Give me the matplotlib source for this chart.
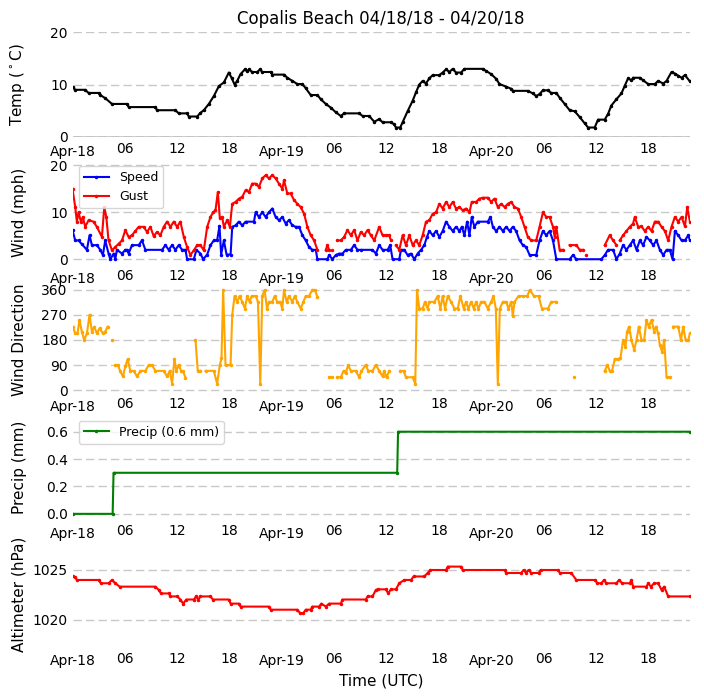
import numpy as np
import pandas as pd
import matplotlib
matplotlib.use("Agg")
import matplotlib.pyplot as plt
import matplotlib.dates as mdates

START = pd.Timestamp("2018-04-18 00:00")
nan = np.nan

# hours since 04/18 00 UTC
temp_h = [0.00, 0.31, 1.45, 1.84, 2.99, 3.18, 3.75, 4.52, 6.24, 6.43, 9.49, 9.68, 11.79, 12.17, 13.13,
          13.32, 14.28, 14.66, 15.04, 15.62, 16.19, 16.77, 17.34, 17.91, 18.22, 18.57, 18.87, 19.25,
          19.75, 20.02, 20.21, 20.59, 21.17, 21.48, 21.74, 22.70, 22.89, 24.23, 24.61, 25.19, 25.76,
          26.34, 26.72, 27.29, 28.06, 28.44, 29.02, 29.59, 30.17, 30.74, 31.12, 32.84, 33.23, 33.99,
          34.57, 35.14, 35.52, 36.48, 36.86, 37.05, 37.55, 37.82, 38.39, 38.97, 39.35, 39.73, 40.12,
          40.50, 40.88, 41.27, 42.03, 42.41, 42.80, 43.18, 43.56, 43.94, 44.52, 44.90, 47.01, 47.39,
          47.96, 48.54, 48.92, 49.69, 50.26, 50.45, 52.17, 52.75, 53.13, 53.51, 53.90, 54.47, 54.85,
          55.43, 55.81, 56.39, 56.96, 57.54, 58.11, 58.68, 59.07, 59.83, 60.21, 60.98, 61.36, 61.74,
          62.32, 62.89, 63.28, 63.66, 64.04, 64.23, 65.00, 65.38, 65.96, 66.72, 67.10, 67.68, 68.06,
          68.63, 69.02, 69.40, 69.78, 70.17, 70.74]
temp = [9.5, 9.0, 9.0, 8.4, 8.4, 8.0, 7.4, 6.3, 6.3, 5.7, 5.7, 5.1, 5.1, 4.5, 4.5,
        3.9, 3.9, 4.6, 5.1, 6.3, 7.8, 9.7, 10.4, 12.3, 11.3, 10.0, 10.7, 12.0,
        12.9, 12.5, 12.9, 12.4, 12.4, 12.9, 12.4, 12.4, 11.9, 11.9, 11.3, 10.7, 10.1,
        10.1, 9.3, 8.0, 8.0, 7.2, 6.3, 5.6, 4.7, 4.0, 4.5, 4.5, 4.0, 4.0,
        2.9, 3.4, 2.8, 2.8, 2.4, 1.8, 1.8, 2.8, 4.9, 6.9, 8.5, 10.0, 10.7,
        10.2, 11.2, 11.8, 11.8, 12.3, 12.9, 12.4, 13.0, 12.3, 12.3, 13.0, 13.0, 12.6,
        12.0, 11.1, 10.1, 9.6, 9.2, 8.8, 8.8, 8.3, 7.8, 8.2, 8.9, 8.9, 8.4,
        8.4, 7.5, 6.3, 5.1, 4.9, 3.8, 2.6, 1.8, 1.8, 3.3, 3.3, 4.4, 6.0,
        7.2, 8.3, 9.8, 11.2, 10.8, 11.3, 11.3, 10.8, 10.1, 10.1, 10.7, 10.2, 10.7,
        12.4, 12.1, 11.7, 11.3, 11.8, 10.6]

speed_h = [0.00, 0.31, 0.69, 1.07, 1.65, 1.95, 2.22, 2.79, 3.18, 3.48, 3.75, 4.13, 4.33, 4.71, 4.90,
           5.09, 5.67, 6.05, 6.24, 6.43, 6.81, 7.58, 7.96, 8.35, 10.26, 10.64, 11.02, 11.41, 11.79,
           12.17, 12.56, 12.94, 13.13, 13.90, 14.20, 14.66, 14.97, 15.43, 15.81, 16.19, 16.57, 16.84,
           17.03, 17.34, 17.65, 18.11, 18.30, 18.68, 19.06, 19.45, 19.83, 20.79, 20.98, 21.36, 21.74,
           22.13, 22.51, 22.89, 23.27, 23.66, 24.04, 24.42, 24.80, 25.19, 25.57, 25.95, 26.34, 26.72,
           27.10, 27.48, 27.87, 28.06, 29.21, 29.40, 29.78, 30.17, 30.55, 30.93, 31.31, 31.89, 32.27,
           32.65, 33.03, 34.37, 34.76, 35.14, 35.52, 36.10, 36.40, 36.67, 37.44, 37.63, 38.01, 38.39,
           38.78, 39.16, 39.54, 39.93, 40.31, 40.61, 40.88, 41.27, 41.65, 42.03, 42.41, 42.80, 43.18,
           43.56, 43.94, 44.33, 44.60, 44.90, 45.21, 45.48, 45.74, 46.05, 46.43, 47.58, 47.89, 48.16,
           48.54, 48.92, 49.30, 49.69, 50.07, 50.45, 50.83, 51.22, 51.60, 51.98, 52.37, 53.13, 53.51,
           53.90, 54.28, 54.66, 55.05, 55.43, 56.96, 57.34, 57.72, 60.60, 60.98, 61.36, 61.94, 62.32,
           62.70, 63.08, 63.47, 63.85, 64.23, 64.62, 65.00, 65.38, 65.76, 66.15, 66.53, 66.91, 67.29,
           67.68, 68.06, 68.44, 68.75, 69.02, 69.40, 69.78, 70.17, 70.55, 70.74]
speed = [6.2, 4.0, 4.0, 3.2, 2.0, 5.1, 3.0, 3.0, 2.0, 0.9, 4.0, 1.2, 0.0, 1.2, 0.0,
         2.0, 1.2, 2.0, 2.0, 1.2, 3.0, 3.0, 4.0, 2.0, 2.0, 3.0, 2.0, 3.0, 2.0,
         3.0, 2.0, 2.0, 0.0, 0.0, 2.0, 1.2, 0.0, 1.0, 3.0, 4.0, 4.0, 7.1,
         1.0, 4.0, 1.0, 1.0, 6.9, 7.2, 8.0, 7.2, 8.0, 8.0, 10.0, 9.0, 10.0,
         9.0, 10.0, 10.8, 9.0, 8.3, 9.0, 7.6, 8.3, 7.2, 6.9, 6.9, 5.1, 4.0,
         2.6, 2.0, 2.0, 0.0, 0.0, 0.9, 0.0, 0.9, 1.2, 1.2, 2.0, 2.0, 3.0,
         2.0, 2.0, 2.0, 1.2, 3.0, 2.0, 2.0, 3.0, 0.0, 0.0, 2.0, 2.0, 0.9,
         1.2, 0.0, 1.2, 2.0, 3.0, 4.75, 6.0, 5.1, 6.0, 4.75, 6.0, 8.0, 6.9,
         6.0, 6.9, 6.0, 6.9, 5.1, 8.0, 5.1, 9.0, 6.9, 8.0, 8.0, 9.0, 6.9,
         6.0, 6.9, 6.0, 6.9, 6.0, 6.9, 6.0, 4.0, 3.0, 2.6, 0.9, 0.9, 4.0,
         6.0, 5.1, 6.0, 4.0, 0.0, 0.0, 0.9, 0.0, 0.0, 0.9, 2.0, 2.0, 0.0,
         1.2, 3.0, 2.0, 3.0, 4.0, 2.0, 4.0, 3.0, 4.75, 4.0, 3.0, 4.0, 2.0,
         0.9, 2.0, 2.0, 0.0, 6.0, 5.1, 4.0, 4.0, 5.1, 4.0]

gust_h = [0.00, 0.31, 0.50, 0.69, 0.96, 1.19, 1.45, 1.84, 2.41, 2.79, 3.37, 3.64, 3.87, 4.13, 4.52,
          4.90, 5.28, 5.67, 6.05, 6.43, 6.81, 7.20, 7.58, 8.15, 8.54, 8.92, 9.30, 9.68, 10.07,
          10.45, 10.83, 11.22, 11.60, 11.98, 12.36, 12.75, 13.13, 13.51, 13.90, 14.28, 14.66, 15.04,
          15.43, 15.81, 16.12, 16.38, 16.65, 16.88, 17.15, 17.34, 17.72, 18.03, 18.30, 18.68, 19.06,
          19.45, 19.83, 20.21, 20.59, 20.98, 21.36, 21.74, 22.13, 22.51, 22.89, 23.27, 23.66, 24.04,
          24.23, 24.61, 24.99, 25.38, 25.76, 26.14, 26.53, 26.91, 27.29, 27.68, 28.06, 28.52, 29.02,
          29.21, 29.40, 29.59, 29.78, 30.17, 30.36, 30.74, 31.12, 31.50, 31.89, 32.27, 32.65, 33.03,
          33.42, 33.80, 34.18, 34.57, 35.14, 35.52, 35.91, 36.29, 36.48, 36.60, 37.05, 37.44, 37.82,
          38.20, 38.59, 38.97, 39.35, 39.73, 40.12, 40.50, 40.88, 41.27, 41.65, 42.03, 42.41, 42.80,
          43.18, 43.56, 43.94, 44.33, 44.71, 45.09, 45.48, 45.74, 46.24, 46.62, 47.01, 47.58, 47.96,
          48.35, 48.73, 49.11, 49.50, 49.88, 50.26, 50.64, 51.03, 51.41, 51.79, 52.17, 52.56, 53.13,
          53.51, 53.90, 54.28, 54.66, 55.05, 55.24, 55.43, 55.81, 56.19, 56.50, 56.96, 57.72, 58.11,
          58.49, 58.70, 58.87, 59.00, 60.98, 61.55, 61.94, 62.32, 62.50, 62.70, 63.08, 63.47, 63.85,
          64.23, 64.42, 64.81, 65.19, 65.57, 65.96, 66.34, 66.72, 67.10, 67.49, 67.87, 68.25, 68.63,
          69.02, 69.40, 69.78, 70.17, 70.43, 70.74]
gust = [15.0, 11.1, 8.0, 10.0, 8.0, 9.0, 6.9, 8.3, 8.0, 6.9, 4.75, 11.1, 9.0, 4.0, 1.9,
        2.6, 3.3, 4.0, 6.2, 4.75, 5.1, 6.0, 6.9, 6.9, 5.8, 6.9, 4.9, 5.8, 5.1,
        6.9, 8.0, 6.9, 8.0, 6.9, 8.0, 4.75, 2.6, 0.9, 1.9, 3.0, 3.0, 1.9,
        6.9, 9.0, 10.0, 10.4, 14.3, 8.7, 9.0, 6.9, 8.3, 6.9, 11.8, 12.2, 12.9,
        13.3, 14.7, 14.3, 16.1, 16.1, 15.4, 17.2, 17.9, 17.2, 17.9, 17.2, 16.1, 15.0,
        16.8, 14.0, 14.0, 12.6, 11.8, 11.1, 9.7, 6.9, 5.1, 4.0, 2.0, nan, 2.0,
        3.0, 2.0, nan, 2.0, nan, 4.0, 4.0, 4.75, 6.2, 5.1, 6.2, 4.0, 5.8,
        5.1, 6.2, 5.1, 4.0, 6.9, 5.1, 5.1, 5.1, 4.0, nan, 3.0, 2.0, 5.1,
        3.0, 5.1, 3.0, 4.0, 3.0, 5.1, 8.0, 8.3, 9.7, 10.0, 11.8, 10.8, 12.2,
        11.1, 12.2, 10.8, 11.1, 10.4, 10.8, 10.0, 12.2, 12.2, 12.9, 13.1, 13.1, 12.2,
        12.9, 11.1, 11.8, 11.1, 11.8, 12.2, 11.1, 10.8, 9.0, 6.9, 4.75, 4.0, 4.0,
        6.9, 10.0, 9.0, 9.0, 6.9, 4.75, 6.9, 2.0, 2.0, nan, 3.0, 3.0, 2.0,
        2.0, nan, 0.9, nan, 3.0, 5.1, 4.0, 3.0, nan, 4.0, 5.1, 6.0, 6.9,
        7.6, 9.0, 6.9, 7.0, 6.0, 6.9, 6.0, 8.0, 8.0, 6.9, 6.0, 4.0, 6.9,
        9.0, 8.0, 9.0, 7.0, 11.1, 8.0]

wdir_h = [0.00, 0.31, 0.57, 0.80, 1.07, 1.34, 1.65, 1.95, 2.22, 2.49, 2.79, 3.10, 3.48, 3.75, 4.02,
          4.20, 4.52, 4.70, 4.90, 5.21, 5.47, 5.78, 6.05, 6.32, 6.62, 7.01, 7.39, 7.77, 8.35, 8.73,
          9.11, 9.49, 10.45, 10.83, 11.14, 11.41, 11.68, 11.90, 12.17, 12.44, 12.67, 12.94, 13.50,
          14.09, 14.35, 14.66, 14.80, 15.24, 16.19, 16.57, 16.88, 17.07, 17.26, 17.53, 18.11, 18.30,
          18.57, 18.87, 19.14, 19.45, 19.75, 20.02, 20.29, 20.52, 20.98, 21.25, 21.51, 21.74, 22.01,
          22.28, 22.51, 22.89, 23.16, 23.46, 23.77, 24.04, 24.23, 24.54, 24.80, 25.19, 25.46, 25.76,
          26.14, 26.45, 26.72, 27.10, 27.48, 27.75, 28.06, 28.50, 29.40, 29.78, 30.00, 30.36, 30.74,
          31.05, 31.31, 31.58, 31.89, 32.46, 32.84, 33.11, 33.61, 33.88, 34.37, 34.76, 35.14, 35.52,
          35.71, 35.98, 36.29, 36.80, 37.55, 37.93, 38.20, 38.97, 39.27, 39.47, 39.73, 40.12, 40.38,
          40.69, 40.88, 41.46, 41.84, 42.15, 42.41, 42.68, 42.99, 43.37, 43.75, 44.14, 44.44, 44.82,
          45.09, 45.36, 45.67, 45.97, 46.24, 46.51, 46.82, 47.20, 47.58, 47.96, 48.23, 48.50, 48.73,
          48.96, 49.30, 49.69, 49.95, 50.26, 50.45, 50.64, 51.10, 51.60, 52.10, 52.40, 52.86, 53.40,
          53.78, 54.47, 54.85, 55.43, 56.00, 57.46, 58.00, 60.98, 61.29, 61.55, 61.82, 62.13, 62.51,
          62.78, 63.08, 63.35, 63.54, 63.77, 64.04, 64.35, 64.62, 64.88, 65.19, 65.50, 65.76, 66.03,
          66.34, 66.64, 66.84, 67.10, 67.29, 67.56, 67.79, 68.06, 68.44, 68.60, 68.83, 69.40, 69.71,
          69.97, 70.24, 70.55, 70.74]
wdir = [228, 204, 204, 252, 210, 180, 204, 270, 210, 228, 204, 222, 204, 210, 228,
        nan, 180, nan, 90, 90, 67, 49, 85, 112, 69, 69, 49, 69, 69, 90,
        90, 69, 69, 49, 69, 23, 112, 69, 90, 69, 67, 45, nan,
        180, 69, 69, nan, 69, 69, 23, 90, 114, 360, 90, 90, 270,
        338, 317, 338, 317, 293, 338, 317, 338, 338, 317, 23, 338, 360,
        293, 317, 317, 338, 317, 317, 293, 360, 317, 338, 317, 338, 317,
        293, 317, 338, 338, 360, 360, 335, nan, 46, 46, nan, 46, 46,
        69, 61, 90, 69, 69, 46, 69, 90, 69, 69, 90, 69, 49,
        69, 46, 69, nan, 69, 69, 46, 46, 23, 360, 293, 293, 317,
        293, 317, 317, 338, 293, 338, 293, 338, 317, 293, 293, 338, 293,
        317, 293, 317, 293, 317, 293, 317, 317, 293, 317, 338, 293, 23,
        293, 317, 317, 293, 317, 267, 317, 338, 338, 338, 360, 338, 338,
        293, 293, 317, 317, nan, 46, nan, 69, 90, 69, 69, 112, 112,
        114, 180, 156, 210, 228, 180, 144, 180, 228, 180, 180, 252, 228,
        252, 210, 228, 204, 162, 138, 180, 46, 46, nan, 228, 228, 180,
        228, 180, 180, 204]

precip_h = [0.00, 4.60, 4.70, 37.20, 37.30, 70.74]
precip = [0.0, 0.0, 0.3, 0.3, 0.6, 0.6]

alt_h = [0.00, 0.31, 0.50, 2.99, 3.25, 4.13, 4.52, 4.90, 5.40, 9.49, 9.88, 10.14, 11.02, 11.22,
         11.98, 12.36, 12.67, 13.05, 13.90, 14.16, 14.39, 14.66, 15.81, 16.08, 17.91, 18.11, 19.06,
         19.25, 22.51, 22.70, 25.76, 26.07, 26.45, 26.72, 27.29, 27.48, 28.25, 28.52, 29.02, 29.40,
         30.74, 30.93, 33.61, 33.80, 34.37, 34.76, 34.95, 35.91, 36.17, 36.48, 37.05, 37.44, 38.01,
         38.78, 39.08, 40.31, 40.69, 41.00, 42.80, 42.99, 44.52, 44.71, 49.50, 49.69, 51.41, 51.68,
         51.98, 52.25, 52.56, 53.40, 53.63, 55.62, 55.85, 57.15, 57.72, 59.83, 60.14, 60.60, 60.90,
         61.17, 62.32, 62.62, 62.97, 63.85, 64.04, 64.23, 65.76, 65.96, 66.26, 66.64, 67.10, 67.49,
         67.79, 68.25, 70.74]
alt = [1024.4, 1024.25, 1024.0, 1024.0, 1023.67, 1023.67, 1024.0, 1023.67, 1023.33, 1023.33, 1023.0,
       1022.65, 1022.65, 1022.35, 1022.35, 1022.04, 1021.63, 1022.04, 1022.04, 1022.35, 1022.04,
       1022.35, 1022.35, 1022.04, 1022.04, 1021.63, 1021.63, 1021.33, 1021.33, 1021.02, 1021.02,
       1020.68, 1020.68, 1021.02, 1021.02, 1021.33, 1021.33, 1021.63, 1021.33, 1021.63, 1021.63,
       1022.04, 1022.04, 1022.35, 1022.35, 1023.0, 1023.06, 1023.06, 1022.65, 1023.06, 1023.06,
       1023.67, 1024.0, 1024.0, 1024.35, 1024.35, 1024.7, 1025.0, 1025.0, 1025.34, 1025.34, 1025.0,
       1025.0, 1024.7, 1024.7, 1025.0, 1024.7, 1025.0, 1024.7, 1024.7, 1025.0, 1025.0, 1024.7,
       1024.7, 1024.0, 1024.0, 1023.67, 1023.67, 1024.0, 1023.67, 1023.67, 1024.0, 1023.67, 1023.67,
       1024.0, 1023.33, 1023.33, 1023.67, 1023.33, 1023.67, 1023.67, 1023.0, 1023.33, 1022.35,
       1022.35]


def to_time(hours):
    return START + pd.to_timedelta(np.array(hours), unit="h")


plt.rcParams["font.family"] = "DejaVu Sans"
fig, axs = plt.subplots(5, 1, figsize=(7.04, 7.0), dpi=100)
fig.subplots_adjust(left=0.103, right=0.98, top=0.954, bottom=0.076, hspace=0.217)

kw = dict(lw=1.5, marker=".", ms=3)
axs[0].plot(to_time(temp_h), temp, color="k", **kw)
axs[0].axhline(0, color="k", lw=1)
axs[1].plot(to_time(speed_h), speed, color="blue", label="Speed", **kw)
axs[1].plot(to_time(gust_h), gust, color="red", label="Gust", **kw)
axs[2].plot(to_time(wdir_h), wdir, color="orange", **kw)
axs[3].plot(to_time(precip_h), precip, color="green", label="Precip (0.6 mm)", **kw)
axs[4].plot(to_time(alt_h), alt, color="red", **kw)

axs[0].set_title("Copalis Beach 04/18/18 - 04/20/18", fontsize=12)
axs[0].set_ylabel("Temp ($^\\circ$C)", fontsize=11)
axs[1].set_ylabel("Wind (mph)", fontsize=11)
axs[2].set_ylabel("Wind Direction", fontsize=11)
axs[3].set_ylabel("Precip (mm)", fontsize=11)
axs[4].set_ylabel("Altimeter (hPa)", fontsize=11)
axs[4].set_xlabel("Time (UTC)", fontsize=11)

axs[0].set_ylim(0, 20)
axs[0].set_yticks([0, 10, 20])
axs[1].set_ylim(-1.1, 21.2)
axs[1].set_yticks([0, 10, 20])
axs[2].set_ylim(-6.5, 370)
axs[2].set_yticks([0, 90, 180, 270, 360])
axs[3].set_ylim(-0.04, 0.725)
axs[3].set_yticks([0.0, 0.2, 0.4, 0.6])
axs[4].set_ylim(1017.3, 1027.8)
axs[4].set_yticks([1020, 1025])

axs[1].legend(loc="upper left", fontsize=9)
axs[3].legend(loc="upper left", fontsize=9)

xmin, xmax = to_time([0.0, 70.74])
for ax in axs:
    ax.set_xlim(xmin, xmax)
    ax.xaxis.set_major_locator(mdates.DayLocator())
    ax.xaxis.set_major_formatter(mdates.DateFormatter("%b-%d"))
    ax.xaxis.set_minor_locator(mdates.HourLocator(byhour=[6, 12, 18]))
    ax.xaxis.set_minor_formatter(mdates.DateFormatter("%H"))
    ax.tick_params(which="both", length=0, labelsize=10)
    ax.tick_params(axis="x", which="major", pad=5.5)
    ax.tick_params(axis="x", which="minor", pad=3.5)
    ax.grid(axis="y", linestyle=(0, (6, 3)), color="#c8c8c8", lw=1)
    ax.set_axisbelow(True)
    for s in ax.spines.values():
        s.set_visible(False)

fig.align_ylabels(axs)
fig.savefig("out.png", dpi=100)
